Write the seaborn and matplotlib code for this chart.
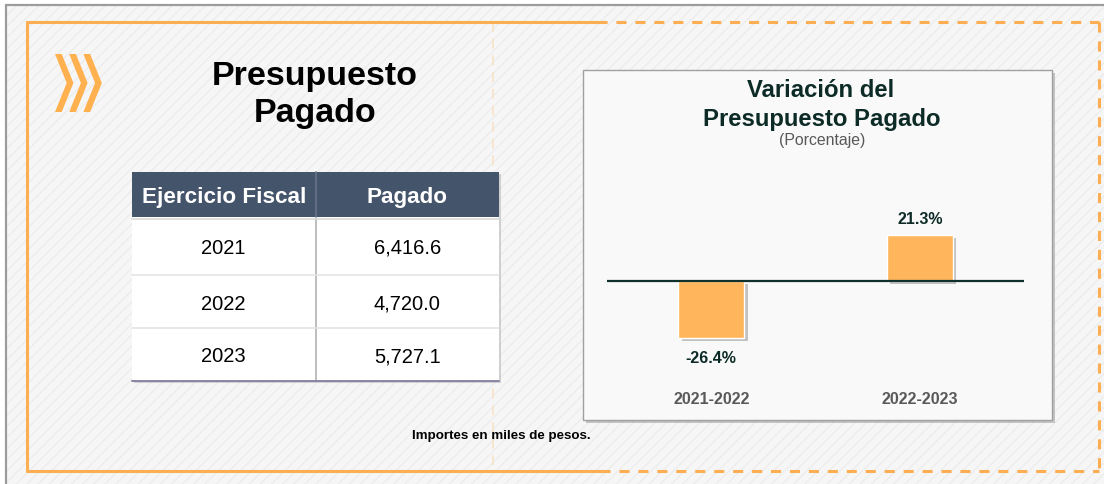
import matplotlib as mpl
mpl.use('Agg')
import matplotlib.pyplot as plt
import matplotlib.patheffects as pe
from matplotlib.patches import Rectangle, Polygon
import pandas as pd
import seaborn as sns

# datos de la tabla
ejercicios = ['2021', '2022', '2023']
pagado = [6416.6, 4720.0, 5727.1]

# datos de la grafica de variacion
periodos = ['2021-2022', '2022-2023']
variacion = [-26.4, 21.3]

NARANJA = '#FFB55B'
MARCO = '#FDAE52'
AZUL = '#44546A'
VERDE = '#0D2B26'
GRIS = '#595959'

sns.set_theme(style='white')
plt.rcParams['font.family'] = ['Liberation Sans', 'DejaVu Sans']
plt.rcParams['hatch.linewidth'] = 0.9

fig = plt.figure(figsize=(11.04, 4.84), dpi=100, facecolor='white')

# capa de fondo en pixeles
bg = fig.add_axes([0, 0, 1, 1])
bg.set_xlim(0, 1104)
bg.set_ylim(484, 0)
bg.axis('off')

bg.add_patch(Rectangle((6, 5), 1098, 479, facecolor='#F6F6F6', edgecolor='#ECECEC',
                       hatch='///', lw=0, zorder=0))
bg.plot([6, 1104], [5, 5], color='#9C9C9C', lw=1.6, zorder=1)
bg.plot([6, 6], [5, 484], color='#9C9C9C', lw=1.6, zorder=1)

# marco naranja: solido a la izquierda, punteado a la derecha
bg.plot([27, 27], [22, 471], color=MARCO, lw=2.2, zorder=2)
bg.plot([27, 597], [22, 22], color=MARCO, lw=2.2, zorder=2)
bg.plot([27, 600], [471, 471], color=MARCO, lw=2.2, zorder=2)
dash = (0, (3.3, 2.9))
bg.plot([597, 1099], [22, 22], color=MARCO, lw=2.2, ls=dash, zorder=2)
bg.plot([1099, 1099], [22, 471], color=MARCO, lw=2.2, ls=dash, zorder=2)
bg.plot([600, 1099], [471, 471], color=MARCO, lw=2.2, ls=dash, zorder=2)
bg.plot([493, 493], [22, 471], color='#F8E2C8', lw=1.2, ls=(0, (6, 4)), zorder=1)

# chevrones
for x0 in [55, 69.2, 83.4]:
    pts = [(x0, 54), (x0 + 6.7, 54), (x0 + 18.4, 83), (x0 + 6.7, 112), (x0, 112), (x0 + 11.7, 83)]
    bg.add_patch(Polygon(pts, closed=True, facecolor='#FFB04F', edgecolor='none', zorder=3))

# titulo izquierdo
bg.text(315, 85, 'Presupuesto', ha='center', va='baseline', fontsize=24.5, fontweight='bold', color='black')
bg.text(315, 122, 'Pagado', ha='center', va='baseline', fontsize=24.5, fontweight='bold', color='black')

# tabla
tx0, tx1, tdiv = 132, 499, 315.5
bg.add_patch(Rectangle((tx0 + 2, 174), tx1 - tx0, 209, facecolor='#B8B8B8', edgecolor='none', alpha=0.6, zorder=3))
bg.add_patch(Rectangle((tx0, 172), tx1 - tx0, 45, facecolor=AZUL, edgecolor='none', zorder=4))
bg.add_patch(Rectangle((tx0, 217), tx1 - tx0, 164, facecolor='white', edgecolor='none', zorder=4))
bg.plot([tdiv, tdiv], [172, 217], color='#66738A', lw=1.2, zorder=5)
bg.plot([tdiv, tdiv], [219, 381], color='#BDBDBD', lw=1.4, zorder=5)
bg.plot([tx0, tx1], [218.5, 218.5], color='#D8D8D8', lw=1.2, zorder=5)
for yl in [275, 328]:
    bg.plot([tx0, tx1], [yl, yl], color='#E4E4E4', lw=1.2, zorder=5)
bg.plot([tx0, tx1], [381, 381], color='#8C84A4', lw=1.4, zorder=5)

c1, c2 = (tx0 + tdiv) / 2, (tdiv + tx1) / 2
bg.text(c1, 197, 'Ejercicio Fiscal', ha='center', va='center', fontsize=16.2, fontweight='bold', color='white', zorder=6)
bg.text(c2, 197, 'Pagado', ha='center', va='center', fontsize=16.2, fontweight='bold', color='white', zorder=6)
filas_y = [248.5, 304, 357]
for anio, val, yc in zip(ejercicios, pagado, filas_y):
    bg.text(c1, yc, anio, ha='center', va='center', fontsize=14.5, color='black', zorder=6)
    bg.text(c2, yc, f'{val:,.1f}', ha='center', va='center', fontsize=14.5, color='black', zorder=6)

bg.text(501, 436, 'Importes en miles de pesos.', ha='center', va='center', fontsize=9.6, fontweight='bold', color='black')

# panel de la grafica
bg.add_patch(Rectangle((586, 73), 469, 350, facecolor='#9A9A9A', edgecolor='none', alpha=0.55, zorder=3))
bg.add_patch(Rectangle((583, 70), 469, 350, facecolor='#F9F9F9', edgecolor='#A0A0A0', lw=1, zorder=4))
bg.text(821, 97, 'Variación del', ha='center', va='baseline', fontsize=17.2, fontweight='bold', color=VERDE, zorder=6)
bg.text(822, 126, 'Presupuesto Pagado', ha='center', va='baseline', fontsize=17.2, fontweight='bold', color=VERDE, zorder=6)
bg.text(822, 145, '(Porcentaje)', ha='center', va='baseline', fontsize=11.4, color=GRIS, zorder=6)

# barras
top_px, bot_px, zero_px, px_pct = 190, 385, 281, 2.16
ax = fig.add_axes([607 / 1104, 1 - bot_px / 484, 417 / 1104, (bot_px - top_px) / 484])
ax.set_zorder(5)
ax.patch.set_visible(False)

df = pd.DataFrame({'periodo': periodos, 'variacion': variacion})
sns.barplot(data=df, x='periodo', y='variacion', color=NARANJA, saturation=1, width=0.316, ax=ax, zorder=2)
for p in ax.patches:
    p.set_path_effects([pe.SimplePatchShadow(offset=(2.5, -2.5), shadow_rgbFace='#808080', alpha=0.45), pe.Normal()])

ax.set_xlim(-0.5, 1.5)
ax.set_ylim(-(bot_px - zero_px) / px_pct, (zero_px - top_px) / px_pct)
ax.axhline(0, color='#10302B', lw=1.6, zorder=3)
etiquetas = ax.bar_label(ax.containers[0], labels=[f'{v:.1f}%' for v in variacion], padding=6,
                         fontsize=11.5, fontweight='bold', color=VERDE)
# la etiqueta negativa va un poco mas abajo
for v, t in zip(variacion, etiquetas):
    if v < 0:
        t.xyann = (0, -9.5)

ax.set_xlabel('')
ax.set_ylabel('')
ax.set_yticks([])
ax.tick_params(axis='x', length=0, pad=5, labelsize=11.5, labelcolor=GRIS)
for t in ax.get_xticklabels():
    t.set_fontweight('bold')
sns.despine(ax=ax, left=True, bottom=True)

fig.savefig('out.png', dpi=100, facecolor='white')
